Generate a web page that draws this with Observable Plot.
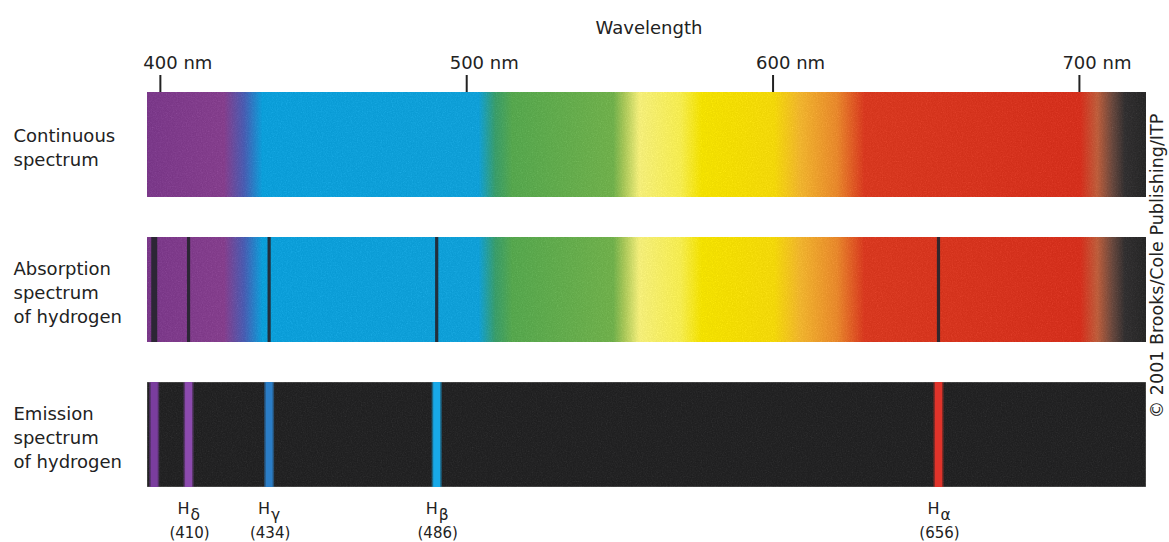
<!DOCTYPE html>
<html>
<head>
<meta charset="utf-8">
<script src="https://cdn.jsdelivr.net/npm/d3@7"></script>
<script src="https://cdn.jsdelivr.net/npm/@observablehq/plot@0.6"></script>
<style>
  html, body { margin: 0; padding: 0; background: #fff; }
  #chart svg { display: block; }
  #chart svg text { font-family: "DejaVu Sans", sans-serif; }
</style>
</head>
<body>
<div id="chart"></div>
<script>
// ---- data ----
const rowNames = ["Continuous\nspectrum", "Absorption\nspectrum\nof hydrogen", "Emission\nspectrum\nof hydrogen"];
const rowKinds = ["continuous", "absorption", "emission"];
const spectrumStart = 395.8;   // nm, left end of the strips
const spectrumEnd = 721.9;     // nm, right end of the strips
const tickNm = [400, 500, 600, 700];
const axisTitle = "Wavelength";

// colour stops of the continuous spectrum
const gradientNm = [395.8, 421, 427.5, 433.5, 504, 509.5, 515, 548, 551.5, 556.5, 570, 577, 600.5, 609, 621, 630, 700.5, 706, 711, 715, 721.9];
const gradientColors = ["#7d3b8c", "#87418f", "#4b5fb4", "#0ea1dc", "#12a2da", "#3c9f6c", "#58a950", "#72b24e", "#a9c85a", "#f6f07c", "#f7ee52", "#f5e300", "#f5da0c", "#f2b630", "#ea8a2e", "#da3b22", "#d7321f", "#c0603e", "#6a4a40", "#343233", "#2a2a2a"];

// hydrogen lines: position as drawn, label letter, caption
const lineNm = [398, 409.2, 435.5, 490.2, 654];
const lineSub = ["", "δ", "γ", "β", "α"];
const lineCaption = ["", "(410)", "(434)", "(486)", "(656)"];
const emissionColors = ["#7a3d9e", "#8c4aae", "#2b7dc6", "#18a9e8", "#e0332a"];

const copyright = "© 2001 Brooks/Cole Publishing/ITP";

// ---- tables built from the arrays ----
const bands = rowNames.map((name, i) => ({name, kind: rowKinds[i], start: spectrumStart, end: spectrumEnd}));
const lines = lineNm.map((nm, i) => ({nm, sub: lineSub[i], caption: lineCaption[i], color: emissionColors[i]}));
const labelled = lines.filter(d => d.caption !== "");

const plot = Plot.plot({
  width: 1169,
  height: 542,
  marginTop: 92,
  marginRight: 23,
  marginBottom: 55,
  marginLeft: 147,
  style: {background: "#fff", color: "#222", fontFamily: "DejaVu Sans, sans-serif"},
  x: {domain: [spectrumStart, spectrumEnd], axis: null},
  y: {domain: rowNames, axis: null, paddingInner: 0.276, paddingOuter: 0},
  color: {type: "identity"},
  marks: [
    // tick marks
    Plot.axisX(tickNm, {anchor: "top", tickSize: 18, tickFormat: () => "", strokeWidth: 2, stroke: "#222", label: null}),
    // tick labels (number centred on tick, unit to the right)
    Plot.axisX(tickNm, {anchor: "top", tickSize: 0, tickPadding: 24, tickFormat: d => `${d} nm`,
      textAnchor: "start", dx: -17, fontSize: 18, fill: "#222", label: null}),
    Plot.text([axisTitle], {frameAnchor: "top", lineAnchor: "middle", textAnchor: "middle", dx: 2, dy: -64, fontSize: 18, fill: "#222"}),
    // strips
    Plot.barX(bands.filter(d => d.kind !== "emission"), {x1: "start", x2: "end", y: "name", fill: "url(#spectrumGradient)"}),
    Plot.barX(bands.filter(d => d.kind === "emission"), {x1: "start", x2: "end", y: "name", fill: "#252526", stroke: "#808080", strokeWidth: 0.7}),
    // absorption lines
    Plot.ruleX(lines, {x: "nm", y1: () => rowNames[1], y2: () => rowNames[1], stroke: "#25252e",
      strokeWidth: d => d.nm < 400 ? 6 : 3.2, strokeOpacity: 0.92}),
    // emission lines
    Plot.ruleX(lines, {x: "nm", y1: () => rowNames[2], y2: () => rowNames[2], stroke: "color", strokeWidth: 10, strokeOpacity: 0.5}),
    Plot.ruleX(lines, {x: "nm", y1: () => rowNames[2], y2: () => rowNames[2], stroke: "color", strokeWidth: 7}),
    // row labels
    Plot.text(bands, {y: "name", text: "name", frameAnchor: "left", textAnchor: "start", lineAnchor: "middle", dx: -134, dy: 1,
      fontSize: 18, lineHeight: 1.33, fill: "#222"}),
    // line labels
    Plot.text(labelled, {x: "nm", text: () => "H", frameAnchor: "bottom", textAnchor: "end", lineAnchor: "middle", dx: 1, dy: 21, fontSize: 16, fill: "#222"}),
    Plot.text(labelled, {x: "nm", text: "sub", frameAnchor: "bottom", textAnchor: "start", lineAnchor: "middle", dx: 2, dy: 28, fontSize: 15.5, fill: "#222"}),
    Plot.text(labelled, {x: "nm", text: "caption", frameAnchor: "bottom", textAnchor: "middle", lineAnchor: "middle", dx: 1, dy: 46, fontSize: 15, fill: "#222"}),
    // copyright
    Plot.text([copyright], {frameAnchor: "right", rotate: -90, textAnchor: "middle", lineAnchor: "middle", dx: 11, dy: -24, fontSize: 17.5, fill: "#222"})
  ]
});

// gradient definition, positioned by the x scale
const xs = plot.scale("x");
const x0 = xs.apply(spectrumStart), x1 = xs.apply(spectrumEnd);
const svg = d3.select(plot);
const defs = svg.insert("defs", ":first-child");
const grad = defs.append("linearGradient")
  .attr("id", "spectrumGradient")
  .attr("gradientUnits", "userSpaceOnUse")
  .attr("x1", x0).attr("x2", x1).attr("y1", 0).attr("y2", 0);
gradientNm.forEach((nm, i) => {
  grad.append("stop")
    .attr("offset", (xs.apply(nm) - x0) / (x1 - x0))
    .attr("stop-color", gradientColors[i]);
});
// subtle print grain on the strips
const f = defs.append("filter").attr("id", "grain")
  .attr("color-interpolation-filters", "sRGB")
  .attr("x", 0).attr("y", 0).attr("width", 1).attr("height", 1);
f.append("feTurbulence").attr("type", "fractalNoise").attr("baseFrequency", 0.8)
  .attr("numOctaves", 2).attr("seed", 7).attr("result", "noise");
f.append("feColorMatrix").attr("in", "noise").attr("type", "saturate").attr("values", 0).attr("result", "gnoise");
f.append("feComposite").attr("in", "SourceGraphic").attr("in2", "gnoise").attr("operator", "arithmetic")
  .attr("k1", 0).attr("k2", 1).attr("k3", 0.14).attr("k4", -0.045).attr("result", "mix");
f.append("feComposite").attr("in", "mix").attr("in2", "SourceGraphic").attr("operator", "in");
svg.selectAll('g[fill="url(#spectrumGradient)"], g[fill="#252526"]').attr("filter", "url(#grain)");

document.getElementById("chart").appendChild(plot);
</script>
</body>
</html>
